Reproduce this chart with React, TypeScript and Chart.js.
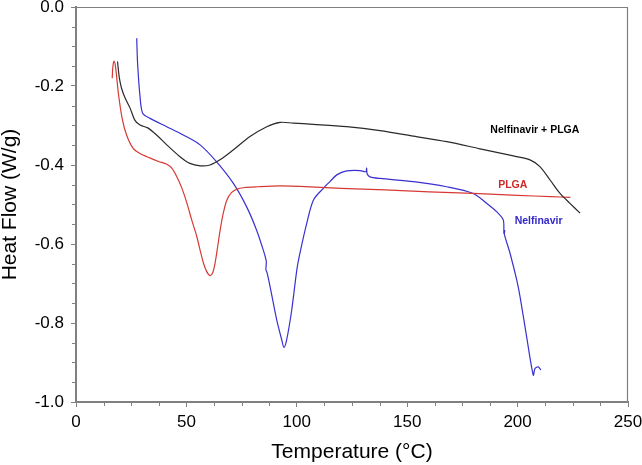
import React, { useEffect, useRef } from "react";
import { Chart, registerables } from "chart.js";

Chart.register(...registerables);

// ---- Data (Temperature °C, Heat Flow W/g) ----
const plgaTemp = [16.4, 16.7, 17.2, 17.9, 19.2, 20.9, 22.9, 25.9, 29.0, 33.4, 37.4, 41.1, 43.4, 45.6, 47.9, 50.2, 52.4, 54.7, 56.4, 57.7, 59.2, 60.7, 61.9, 63.0, 64.2, 65.3, 66.7, 68.3, 70.4, 72.9, 76.4, 82.4, 92.4, 101.4, 120, 140, 160, 180, 200, 215, 223.9];
const plgaHeat = [-0.180, -0.151, -0.137, -0.151, -0.219, -0.282, -0.324, -0.358, -0.371, -0.382, -0.391, -0.398, -0.408, -0.429, -0.458, -0.496, -0.539, -0.581, -0.620, -0.648, -0.670, -0.680, -0.673, -0.648, -0.605, -0.564, -0.522, -0.489, -0.470, -0.461, -0.457, -0.455, -0.453, -0.454, -0.459, -0.463, -0.468, -0.472, -0.477, -0.480, -0.482];

const mixTemp = [18.8, 19.6, 20.6, 22.2, 24.5, 26.7, 29.0, 32.5, 36.5, 41.1, 47.1, 51.6, 56.2, 60.7, 65.2, 71.2, 78.8, 86.4, 92.4, 98.4, 107.5, 122.6, 137.7, 152.8, 167.9, 183.0, 198.1, 205.6, 210.1, 214.7, 219.2, 223.7, 228.3];
const mixHeat = [-0.138, -0.178, -0.205, -0.230, -0.256, -0.287, -0.299, -0.306, -0.324, -0.349, -0.379, -0.396, -0.402, -0.400, -0.387, -0.362, -0.328, -0.303, -0.292, -0.294, -0.297, -0.303, -0.313, -0.327, -0.341, -0.359, -0.377, -0.387, -0.404, -0.438, -0.472, -0.497, -0.522];

const nelfTemp = [27.5, 27.9, 29.0, 30.2, 33.5, 41.1, 48.6, 56.2, 63.7, 71.2, 77.3, 81.8, 84.8, 86.1, 86.2, 86.0, 86.5, 87.9, 90.9, 93.2, 94.2, 95.4, 97.7, 100.0, 101.4, 104.5, 107.5, 112.0, 115.0, 118.1, 122.6, 128.6, 131.3, 131.6, 131.9, 133.2, 137.7, 152.8, 167.9, 179.9, 186.0, 190.5, 193.5, 193.8, 194.2, 194.0, 196.6, 199.6, 201.1, 204.1, 207.1, 207.9, 209.4, 210.5];
const nelfHeat = [-0.079, -0.143, -0.227, -0.269, -0.282, -0.303, -0.324, -0.349, -0.392, -0.446, -0.506, -0.565, -0.615, -0.641, -0.648, -0.665, -0.672, -0.708, -0.792, -0.843, -0.862, -0.843, -0.767, -0.666, -0.624, -0.548, -0.489, -0.459, -0.442, -0.425, -0.415, -0.414, -0.417, -0.408, -0.423, -0.430, -0.434, -0.442, -0.455, -0.472, -0.497, -0.518, -0.539, -0.573, -0.566, -0.575, -0.624, -0.691, -0.733, -0.835, -0.932, -0.915, -0.911, -0.919];

const seriesNames = ["Nelfinavir + PLGA", "PLGA", "Nelfinavir"];
const seriesColors = ["#2a2a2a", "#d63a34", "#3a30d0"];
const labelColors = ["#000000", "#cc2a2a", "#3328cc"];
// label anchor in data coordinates (temperature, heat flow)
const labelTemp = [207.8, 197.8, 209.5];
const labelHeat = [-0.312, -0.451, -0.541];

const xTicks = { min: 0, max: 250, step: 50, minor: 12.5 };
const yTicks = { min: -1.0, max: 0.0, step: 0.2, minor: 0.05 };

const toPoints = (t: number[], v: number[]) => t.map((x, i) => ({ x, y: v[i] }));

const FONT = "'Liberation Sans', Arial, Helvetica, sans-serif";
const AXIS = "#808080";

const framePlugin = {
  id: "frame",
  afterDraw(chart: any) {
    const { ctx, chartArea } = chart;
    const xs = chart.scales.x;
    const ys = chart.scales.y;
    ctx.save();
    ctx.strokeStyle = AXIS;
    ctx.lineWidth = 1.2;
    ctx.beginPath();
    ctx.moveTo(chartArea.left, chartArea.top + 0.5);
    ctx.lineTo(chartArea.right - 0.5, chartArea.top + 0.5);
    ctx.lineTo(chartArea.right - 0.5, chartArea.bottom);
    ctx.stroke();
    // minor ticks
    ctx.lineWidth = 1;
    ctx.beginPath();
    for (let v = xTicks.min; v <= xTicks.max + 1e-9; v += xTicks.minor) {
      if (Math.abs(v / xTicks.step - Math.round(v / xTicks.step)) < 1e-6) continue;
      const px = Math.round(xs.getPixelForValue(v)) + 0.5;
      ctx.moveTo(px, chartArea.bottom);
      ctx.lineTo(px, chartArea.bottom + 4);
    }
    for (let v = yTicks.min; v <= yTicks.max + 1e-9; v += yTicks.minor) {
      if (Math.abs(v / yTicks.step - Math.round(v / yTicks.step)) < 1e-6) continue;
      const py = Math.round(ys.getPixelForValue(v)) + 0.5;
      ctx.moveTo(chartArea.left - 4, py);
      ctx.lineTo(chartArea.left, py);
    }
    ctx.stroke();
    // series labels
    ctx.font = `bold 10.5px ${FONT}`;
    ctx.textAlign = "center";
    ctx.textBaseline = "middle";
    seriesNames.forEach((name, i) => {
      ctx.fillStyle = labelColors[i];
      ctx.fillText(name, xs.getPixelForValue(labelTemp[i]), ys.getPixelForValue(labelHeat[i]));
    });
    ctx.restore();
  },
};

export default function App() {
  const ref = useRef<HTMLCanvasElement | null>(null);
  useEffect(() => {
    document.body.style.margin = "0";
    const canvas = ref.current;
    if (!canvas) return;
    const chart = new Chart(canvas, {
      type: "scatter",
      data: {
        datasets: [
          { label: seriesNames[0], data: toPoints(mixTemp, mixHeat), borderColor: seriesColors[0] },
          { label: seriesNames[1], data: toPoints(plgaTemp, plgaHeat), borderColor: seriesColors[1] },
          { label: seriesNames[2], data: toPoints(nelfTemp, nelfHeat), borderColor: seriesColors[2] },
        ].map((d) => ({
          ...d,
          showLine: true,
          pointRadius: 0,
          borderWidth: 1.2,
          tension: 0.3,
          fill: false,
        })),
      },
      options: {
        responsive: false,
        animation: false,
        devicePixelRatio: 1,
        layout: { padding: { top: 7, right: 14, left: 0, bottom: 0 } },
        plugins: { legend: { display: false }, tooltip: { enabled: false } },
        scales: {
          x: {
            type: "linear",
            min: xTicks.min,
            max: xTicks.max,
            afterFit: (s: any) => { s.height = 63; s.paddingLeft = 0; s.paddingRight = 0; },
            ticks: {
              stepSize: xTicks.step,
              color: "#000",
              font: { family: FONT, size: 17, lineHeight: 1.0 },
              padding: 7,
              maxRotation: 0,
            },
            grid: { drawOnChartArea: false, drawTicks: true, tickLength: 5, tickColor: AXIS, color: AXIS },
            border: { display: true, color: AXIS, width: 2 },
            title: {
              display: true,
              text: "Temperature (°C)",
              color: "#000",
              font: { family: FONT, size: 21, lineHeight: 1.0 },
              padding: { top: 0, bottom: 2 },
            },
          },
          y: {
            type: "linear",
            min: yTicks.min,
            max: yTicks.max,
            afterFit: (s: any) => { s.width = 76; s.paddingTop = 0; s.paddingBottom = 0; },
            ticks: {
              stepSize: yTicks.step,
              color: "#000",
              font: { family: FONT, size: 17, lineHeight: 0.8 },
              padding: 7,
              callback: (v: any) => {
                const n = Number(v);
                return Math.abs(n) < 1e-9 ? "0.0" : n.toFixed(1);
              },
            },
            grid: { drawOnChartArea: false, drawTicks: true, tickLength: 5, tickColor: AXIS, color: AXIS },
            border: { display: true, color: AXIS, width: 2 },
            title: {
              display: true,
              text: "Heat Flow (W/g)",
              color: "#000",
              font: { family: FONT, size: 21, lineHeight: 1.0 },
              padding: { top: 0, bottom: 0 },
            },
          },
        },
      },
      plugins: [framePlugin],
    } as any);
    return () => chart.destroy();
  }, []);
  return (
    <div style={{ position: "absolute", left: 0, top: 0, width: 642, height: 465 }}>
      <canvas ref={ref} width={642} height={465} style={{ display: "block" }} />
    </div>
  );
}
